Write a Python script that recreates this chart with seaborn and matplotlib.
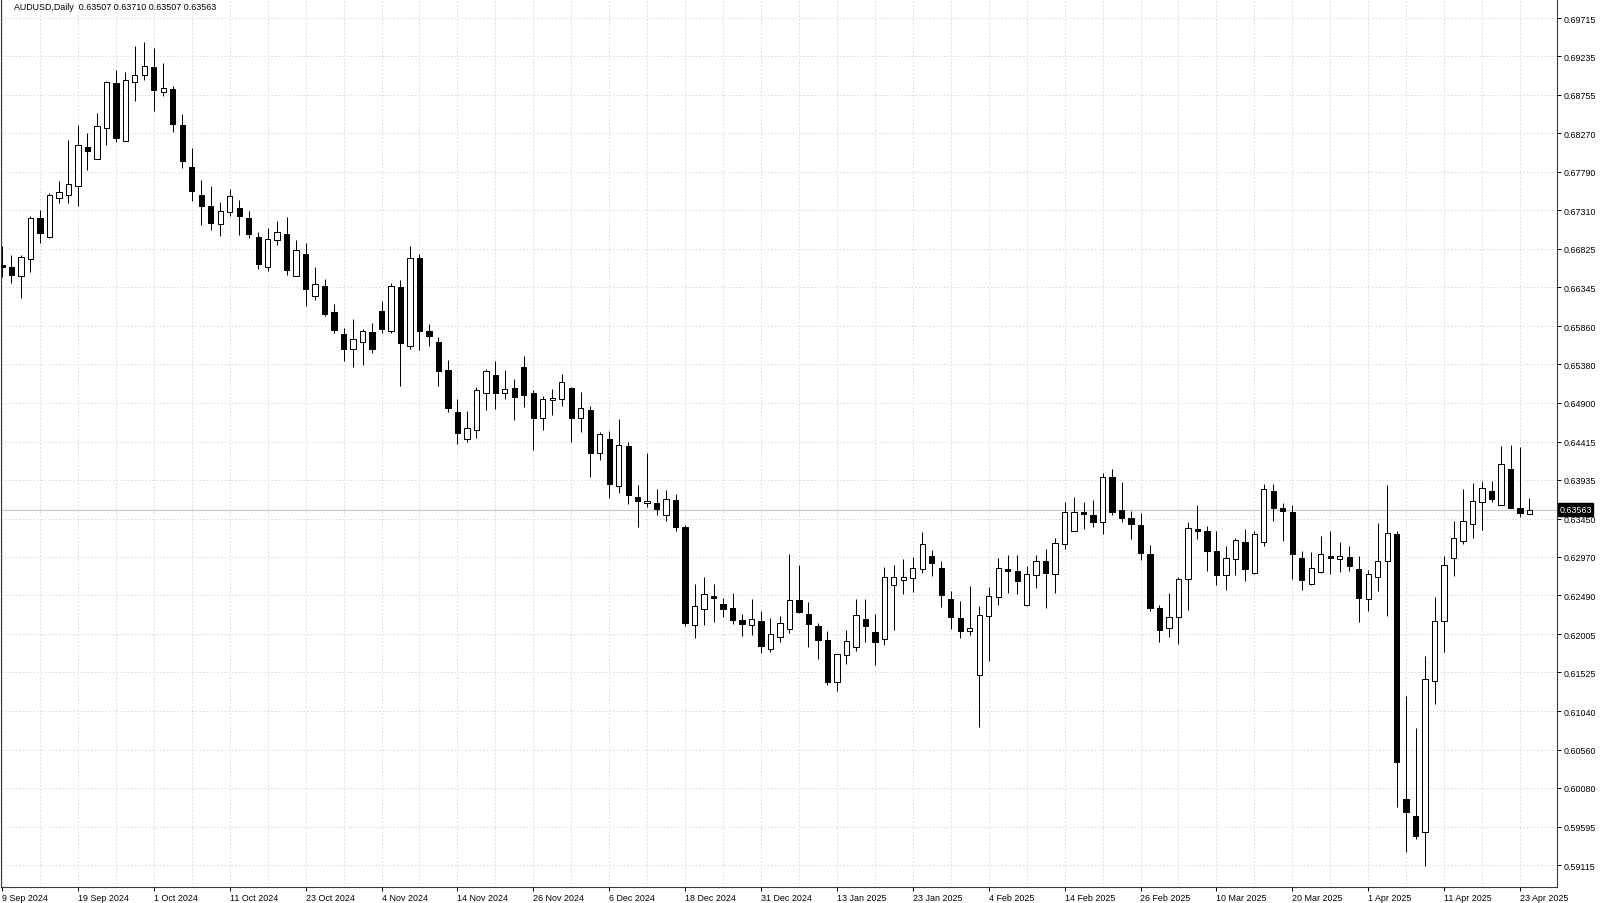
import numpy as np
import pandas as pd
import matplotlib
matplotlib.use("Agg")
import matplotlib.pyplot as plt
import seaborn as sns
from matplotlib.transforms import blended_transform_factory
from matplotlib.ticker import FixedLocator, NullFormatter

# ---------------- data (AUDUSD daily) ----------------
opens = [0.66620, 0.66603, 0.66483, 0.66703, 0.67208, 0.66978, 0.67466, 0.67496, 0.67609, 0.68105,
         0.67947, 0.68335, 0.68898, 0.68180, 0.68910, 0.69002, 0.69098, 0.68785, 0.68827, 0.68372,
         0.67850, 0.67496, 0.67359, 0.67137, 0.67284, 0.67337, 0.67208, 0.66974, 0.66603, 0.66933,
         0.67012, 0.66483, 0.66765, 0.66240, 0.66365, 0.66032, 0.65764, 0.65577, 0.65657, 0.65782,
         0.66044, 0.65802, 0.66345, 0.65606, 0.66712, 0.65804, 0.65664, 0.65310, 0.64781, 0.64443,
         0.64555, 0.65022, 0.65251, 0.65022, 0.65085, 0.65351, 0.65018, 0.64705, 0.64931, 0.64943,
         0.65085, 0.64713, 0.64809, 0.64271, 0.64450, 0.63854, 0.64359, 0.63717, 0.63642, 0.63642,
         0.63491, 0.63687, 0.63345, 0.62122, 0.62315, 0.62482, 0.62381, 0.62335, 0.62181, 0.62115,
         0.62169, 0.61815, 0.61965, 0.62069, 0.62431, 0.62256, 0.62106, 0.61935, 0.61405, 0.61743,
         0.61847, 0.62197, 0.62031, 0.61940, 0.62615, 0.62686, 0.62703, 0.62816, 0.62982, 0.62832,
         0.62444, 0.62210, 0.62040, 0.61489, 0.62227, 0.62465, 0.62816, 0.62794, 0.62373, 0.62741,
         0.62916, 0.62757, 0.63136, 0.63291, 0.63529, 0.63491, 0.63404, 0.63967, 0.63554, 0.63454,
         0.63374, 0.63003, 0.62328, 0.62081, 0.62215, 0.62690, 0.63320, 0.63295, 0.63049, 0.62741,
         0.62941, 0.63154, 0.62769, 0.63161, 0.63796, 0.63583, 0.63537, 0.62961, 0.62632, 0.62778,
         0.62978, 0.62941, 0.62966, 0.62819, 0.62440, 0.62723, 0.62920, 0.63257, 0.59945, 0.59728,
         0.59524, 0.61422, 0.62165, 0.62953, 0.63174, 0.63379, 0.63654, 0.63796, 0.63617, 0.64067,
         0.63579, 0.63507]
highs = [0.66866, 0.66749, 0.66749, 0.67234, 0.67312, 0.67525, 0.67675, 0.68188, 0.68376, 0.68272,
         0.68523, 0.68931, 0.69068, 0.69036, 0.69361, 0.69415, 0.69340, 0.69148, 0.68868, 0.68510,
         0.68092, 0.67688, 0.67609, 0.67409, 0.67575, 0.67441, 0.67304, 0.67041, 0.67087, 0.67175,
         0.67225, 0.66937, 0.66903, 0.66599, 0.66449, 0.66132, 0.65839, 0.65944, 0.65819, 0.65894,
         0.66170, 0.66399, 0.66436, 0.66866, 0.66762, 0.65886, 0.65723, 0.65439, 0.64947, 0.64797,
         0.65101, 0.65322, 0.65423, 0.65310, 0.65197, 0.65481, 0.65060, 0.64988, 0.65072, 0.65264,
         0.65097, 0.65035, 0.64863, 0.64530, 0.64543, 0.64697, 0.64405, 0.63871, 0.64271, 0.63821,
         0.63808, 0.63758, 0.63370, 0.62632, 0.62719, 0.62632, 0.62457, 0.62523, 0.62256, 0.62448,
         0.62294, 0.62206, 0.62231, 0.63011, 0.62866, 0.62403, 0.62140, 0.62040, 0.61752, 0.62052,
         0.62444, 0.62444, 0.62256, 0.62848, 0.62870, 0.62941, 0.62973, 0.63286, 0.63053, 0.62916,
         0.62540, 0.62415, 0.62607, 0.62360, 0.62598, 0.62953, 0.62995, 0.62995, 0.62853, 0.62995,
         0.63070, 0.63211, 0.63658, 0.63717, 0.63658, 0.63683, 0.64017, 0.64071, 0.63908, 0.63541,
         0.63520, 0.63120, 0.62369, 0.62519, 0.62719, 0.63411, 0.63624, 0.63358, 0.63291, 0.63103,
         0.63204, 0.63316, 0.63291, 0.63887, 0.63887, 0.63645, 0.63624, 0.63045, 0.63032, 0.63232,
         0.63291, 0.63161, 0.63103, 0.62982, 0.62807, 0.63391, 0.63871, 0.63299, 0.61234, 0.60830,
         0.61734, 0.62469, 0.62982, 0.63416, 0.63817, 0.63896, 0.63925, 0.63925, 0.64355, 0.64371,
         0.64342, 0.63710]
lows = [0.66470, 0.66395, 0.66207, 0.66540, 0.66903, 0.66966, 0.67396, 0.67404, 0.67359, 0.67813,
        0.67947, 0.68126, 0.68160, 0.68172, 0.68673, 0.68943, 0.68548, 0.68743, 0.68292, 0.67834,
        0.67421, 0.67128, 0.67066, 0.66983, 0.67234, 0.67003, 0.66966, 0.66570, 0.66553, 0.66878,
        0.66503, 0.66483, 0.66115, 0.66186, 0.65989, 0.65777, 0.65426, 0.65351, 0.65376, 0.65523,
        0.65777, 0.65773, 0.65106, 0.65573, 0.65564, 0.65610, 0.65113, 0.64788, 0.64384, 0.64405,
        0.64455, 0.64806, 0.64818, 0.64951, 0.64688, 0.64851, 0.64312, 0.64563, 0.64750, 0.64856,
        0.64405, 0.64530, 0.63975, 0.64187, 0.63704, 0.63774, 0.63633, 0.63345, 0.63592, 0.63499,
        0.63424, 0.63291, 0.62110, 0.61960, 0.62122, 0.62160, 0.62219, 0.62135, 0.61977, 0.61990,
        0.61768, 0.61781, 0.61906, 0.62022, 0.62265, 0.61847, 0.61697, 0.61371, 0.61289, 0.61634,
        0.61789, 0.61902, 0.61622, 0.61872, 0.62060, 0.62503, 0.62528, 0.62766, 0.62728, 0.62340,
        0.62072, 0.61960, 0.61990, 0.60846, 0.61668, 0.62373, 0.62519, 0.62503, 0.62360, 0.62578,
        0.62328, 0.62523, 0.63073, 0.63291, 0.63320, 0.63341, 0.63254, 0.63495, 0.63411, 0.63195,
        0.62936, 0.62298, 0.61902, 0.61965, 0.61881, 0.62310, 0.63195, 0.62798, 0.62623, 0.62560,
        0.62744, 0.62665, 0.62753, 0.63111, 0.63416, 0.63166, 0.62690, 0.62560, 0.62623, 0.62769,
        0.62761, 0.62778, 0.62791, 0.62160, 0.62298, 0.62548, 0.62235, 0.59837, 0.59281, 0.59440,
        0.59106, 0.61130, 0.61784, 0.62728, 0.63132, 0.63204, 0.63308, 0.63654, 0.63617, 0.63587,
        0.63474, 0.63507]
closes = [0.66595, 0.66499, 0.66728, 0.67212, 0.67028, 0.67496, 0.67534, 0.67634, 0.68126, 0.68054,
          0.68364, 0.68910, 0.68217, 0.68943, 0.68998, 0.69111, 0.68818, 0.68835, 0.68385, 0.67929,
          0.67554, 0.67359, 0.67153, 0.67296, 0.67488, 0.67241, 0.67012, 0.66640, 0.66946, 0.67033,
          0.66565, 0.66808, 0.66324, 0.66382, 0.66011, 0.65811, 0.65577, 0.65694, 0.65794, 0.65569,
          0.65827, 0.66357, 0.65644, 0.66708, 0.65802, 0.65732, 0.65301, 0.64834, 0.64518, 0.64584,
          0.65056, 0.65297, 0.65022, 0.65076, 0.64976, 0.64997, 0.64709, 0.64951, 0.64963, 0.65160,
          0.64713, 0.64831, 0.64275, 0.64505, 0.63887, 0.64368, 0.63746, 0.63667, 0.63667, 0.63574,
          0.63692, 0.63345, 0.62147, 0.62356, 0.62503, 0.62453, 0.62319, 0.62177, 0.62135, 0.62190,
          0.61852, 0.62010, 0.62140, 0.62431, 0.62281, 0.62127, 0.61927, 0.61405, 0.61752, 0.61918,
          0.62240, 0.62102, 0.61902, 0.62716, 0.62716, 0.62716, 0.62828, 0.63129, 0.62898, 0.62490,
          0.62215, 0.62043, 0.62077, 0.62240, 0.62478, 0.62828, 0.62798, 0.62669, 0.62753, 0.62923,
          0.62773, 0.63141, 0.63529, 0.63529, 0.63504, 0.63411, 0.63967, 0.63537, 0.63461, 0.63383,
          0.63016, 0.62335, 0.62060, 0.62223, 0.62694, 0.63329, 0.63299, 0.63049, 0.62748, 0.62953,
          0.63182, 0.62819, 0.63254, 0.63817, 0.63587, 0.63545, 0.63003, 0.62686, 0.62828, 0.63003,
          0.62953, 0.62978, 0.62861, 0.62453, 0.62757, 0.62923, 0.63266, 0.60408, 0.59774, 0.59482,
          0.61447, 0.62172, 0.62866, 0.63204, 0.63416, 0.63667, 0.63837, 0.63695, 0.64130, 0.63587,
          0.63524, 0.63563]

price_ticks = ["0.69715", "0.69235", "0.68755", "0.68270", "0.67790", "0.67310", "0.66825",
               "0.66345", "0.65860", "0.65380", "0.64900", "0.64415", "0.63935", "0.63450",
               "0.62970", "0.62490", "0.62005", "0.61525", "0.61040", "0.60560", "0.60080",
               "0.59595", "0.59115"]
date_ticks = ["9 Sep 2024", "19 Sep 2024", "1 Oct 2024", "11 Oct 2024", "23 Oct 2024",
              "4 Nov 2024", "14 Nov 2024", "26 Nov 2024", "6 Dec 2024", "18 Dec 2024",
              "31 Dec 2024", "13 Jan 2025", "23 Jan 2025", "4 Feb 2025", "14 Feb 2025",
              "26 Feb 2025", "10 Mar 2025", "20 Mar 2025", "1 Apr 2025", "11 Apr 2025",
              "23 Apr 2025"]
symbol_title = "AUDUSD,Daily  0.63507 0.63710 0.63507 0.63563"
last_price = 0.63563

# ---------------- figure ----------------
sns.set_theme(style="white")
plt.rcParams["font.family"] = ["Liberation Sans", "DejaVu Sans"]

W, H = 1600, 904
fig = plt.figure(figsize=(W / 100, H / 100), dpi=100)
fig.patch.set_facecolor("white")
ax = fig.add_axes([1 / W, 16 / H, 1556 / W, 888 / H])
ax.set_facecolor("white")

df = pd.DataFrame({"open": opens, "high": highs, "low": lows, "close": closes})
df["idx"] = np.arange(len(df))
df["bull"] = df["close"] >= df["open"]
df["body_lo"] = df[["open", "close"]].min(axis=1)
df["body_h"] = (df["close"] - df["open"]).abs().clip(lower=0.00003)

px = 0.72  # one pixel in points
# wicks
ax.vlines(df["idx"], df["low"], df["high"], color="black", lw=px, zorder=3)
# bodies
bull = df[df["bull"]]
bear = df[~df["bull"]]
ax.bar(bull["idx"], bull["body_h"], bottom=bull["body_lo"], width=0.56,
       facecolor="white", edgecolor="black", linewidth=px, zorder=4)
ax.bar(bear["idx"], bear["body_h"], bottom=bear["body_lo"], width=0.56,
       facecolor="black", edgecolor="black", linewidth=px, zorder=4)

# axes limits (pixel-calibrated)
ax.set_xlim(-1 / 9.4875, 1555 / 9.4875)
ax.set_ylim(0.588397, 0.69953)

# y axis on the right
yvals = [float(t) for t in price_ticks]
ax.set_yticks(yvals)
ax.set_yticklabels(price_ticks)
ax.yaxis.tick_right()
ax.tick_params(axis="y", which="major", right=True, left=False, labelright=True,
               labelleft=False, length=3, width=0.7, pad=1.5, labelsize=6.4,
               colors="black")

# x axis
xmaj = np.arange(0, 8 * len(date_ticks), 8)
ax.xaxis.set_major_locator(FixedLocator(xmaj))
ax.set_xticklabels(date_ticks)
ax.xaxis.set_minor_locator(FixedLocator(np.arange(4, 164, 8)))
ax.xaxis.set_minor_formatter(NullFormatter())
ax.tick_params(axis="x", which="major", bottom=True, length=3, width=0.7, pad=1,
               labelsize=6.4, colors="black")
ax.tick_params(axis="x", which="minor", bottom=False, length=0)
for lbl in ax.get_xticklabels():
    lbl.set_horizontalalignment("left")

# dotted grid (light, fine dots)
gstyle = dict(linestyle=(0, (1.5, 2.2)), color="#d6d6d6", lw=0.7)
ax.grid(True, axis="y", which="major", **gstyle)
ax.grid(True, axis="x", which="both", **gstyle)
ax.set_axisbelow(True)

# spines
for s in ["left", "right", "bottom"]:
    ax.spines[s].set_visible(True)
    ax.spines[s].set_color("#3a3a3a")
    ax.spines[s].set_linewidth(0.8)
ax.spines["top"].set_visible(False)

# last price line + tag
ax.axhline(last_price, color="#c8c8c8", lw=0.8, zorder=2)
trans = blended_transform_factory(ax.transAxes, ax.transData)
ax.text(1.0015, last_price, f"{last_price:.5f}", transform=trans, ha="left", va="center",
        color="white", fontsize=6.4, clip_on=False, zorder=10,
        bbox=dict(boxstyle="square,pad=0.18", facecolor="black", edgecolor="black"))

# header
fig.text(14 / W, 1 - 8 / H, symbol_title, ha="left", va="center", fontsize=6.4, color="black")

fig.savefig("out.png", dpi=100, facecolor="white")
